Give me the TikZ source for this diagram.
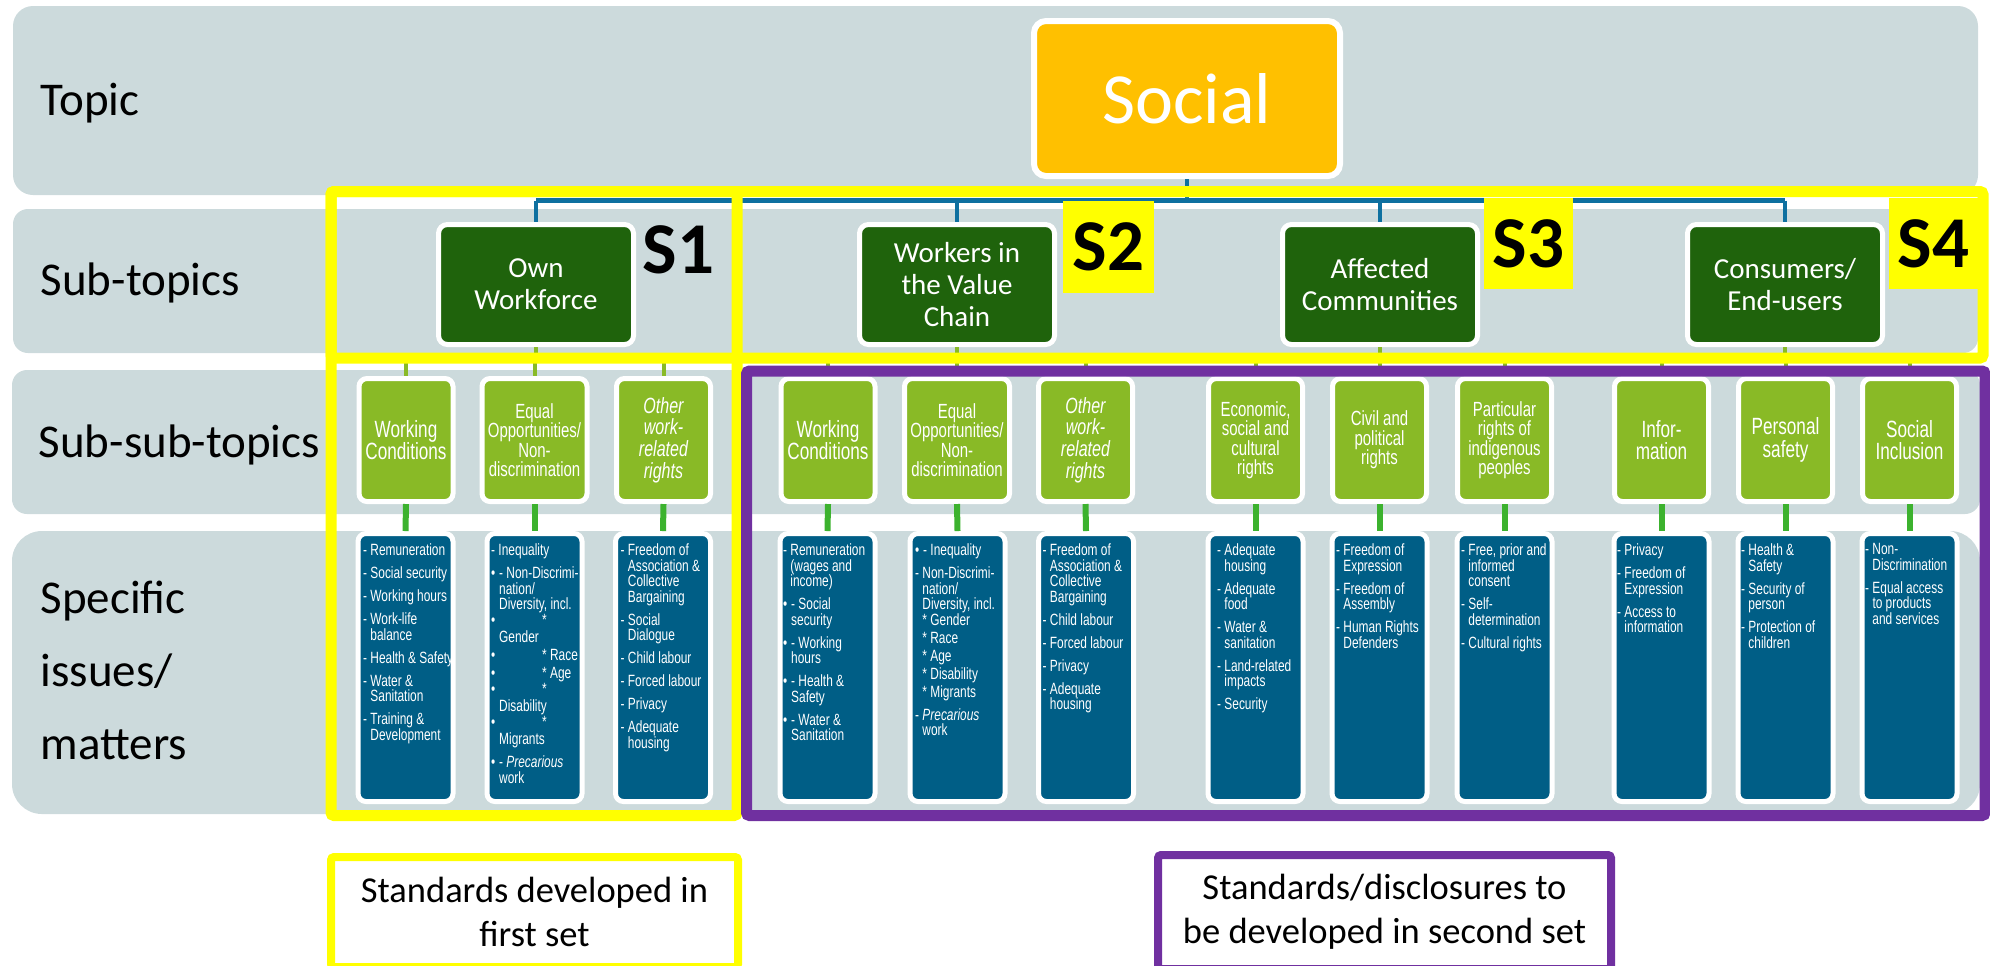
\documentclass[tikz,border=0pt]{standalone}
\usepackage{fontspec}
\setmainfont{Carlito}
\newfontfamily\narfont[FakeStretch=0.73]{Liberation Sans}
\definecolor{bandgray}{RGB}{204,218,220}
\definecolor{dkgreen}{RGB}{31,99,12}
\definecolor{ltgreen}{RGB}{137,186,38}
\definecolor{dblue}{RGB}{0,94,134}
\definecolor{orng}{RGB}{255,192,0}
\definecolor{lineblue}{RGB}{14,112,160}
\definecolor{brgreen}{RGB}{60,178,46}
\definecolor{ylw}{RGB}{255,255,0}
\definecolor{purp}{RGB}{112,48,160}
\newcommand\hind{\hphantom{-\ }}
\newcommand\mybul{\makebox[0.8mm][l]{•}}
\newcommand\mybsp{\hspace*{0.8mm}}
\newcommand\dtf{\narfont\fontsize{1.63mm}{1.55mm}\selectfont\lineskiplimit=-5pt\relax}
\newcommand\ssA{\narfont\fontsize{2.35mm}{2.22mm}\selectfont\lineskiplimit=-5pt\relax}
\newcommand\ssB{\narfont\fontsize{2.05mm}{1.94mm}\selectfont\lineskiplimit=-5pt\relax}
\newcommand\ssC{\narfont\itshape\fontsize{2.2mm}{2.17mm}\selectfont\lineskiplimit=-5pt\relax}
\tikzset{
  lbl/.style={inner sep=0pt, text=black, font=\fontsize{4.7mm}{5.6mm}\selectfont},
  socbox/.style={draw=white, line width=0.6mm, fill=orng, rounded corners=1.2mm, minimum width=30.6mm, minimum height=15.5mm, inner sep=0pt, text=white, font=\fontsize{7.2mm}{8mm}\selectfont},
  stbox/.style={draw=white, line width=0.5mm, fill=dkgreen, rounded corners=0.9mm, minimum width=19.5mm, minimum height=12mm, inner sep=0pt, align=center, text=white, font=\fontsize{2.9mm}{3.2mm}\selectfont},
  ssbox/.style={draw=white, line width=0.5mm, fill=ltgreen, rounded corners=0.8mm, minimum width=9.4mm, minimum height=12.3mm, inner sep=0pt, align=center, text=white},
  dbox/.style={draw=white, line width=0.5mm, fill=dblue, rounded corners=0.8mm, minimum width=9.5mm, minimum height=26.8mm, inner sep=0pt},
  dtext/.style={anchor=north west, inner sep=0pt, align=left, text=white, font=\dtf},
  slabel/.style={inner sep=0pt, text=black, font=\bfseries\fontsize{7.3mm}{8mm}\selectfont},
  spatch/.style={fill=ylw, minimum width=9mm, minimum height=9.1mm},
  bline/.style={draw=lineblue, line width=0.45mm},
  gline/.style={draw=ltgreen, line width=0.4mm},
  cline/.style={draw=brgreen, line width=0.6mm},
  yframe/.style={draw=ylw, line width=1.1mm, rounded corners=0.3mm},
  pframe/.style={draw=purp, line width=1.1mm, rounded corners=0.3mm},
  legbox/.style={line width=0.8mm, fill=white, rounded corners=0.3mm, align=center, text=black, inner sep=0pt, font=\fontsize{3.65mm}{4.4mm}\selectfont}
}
\begin{document}
\begin{tikzpicture}[x=0.1mm,y=-0.1mm]
\useasboundingbox (0,0) rectangle (1990,965);
\clip (0,0) rectangle (1990,965);
% bands
\fill[bandgray, rounded corners=2mm] (13,6) rectangle (1978,195);
\fill[bandgray, rounded corners=1.5mm] (13,209) rectangle (1978,353);
\fill[bandgray, rounded corners=1.5mm] (12,370) rectangle (1980,514);
\fill[bandgray, rounded corners=3mm] (12,531) rectangle (1980,814);
% row labels
\node[lbl, anchor=base west] (ltopic) at (40,115) {Topic};
\node[lbl, anchor=base west] (lsub) at (40,295) {Sub-topics};
\node[lbl, anchor=base west] (lsubsub) at (38,457) {Sub-sub-topics};
\node[lbl, anchor=west, align=left, font=\fontsize{4.7mm}{7.3mm}\selectfont] (lspec) at (40,670) {Specific\\issues/\\matters};
% topic
\node[socbox] (social) at (1187,98.5) {Social};
% sub-topics
\node[stbox] (t1) at (536,284.5) {Own\\Workforce};
\node[stbox] (t2) at (957,284.5) {Workers in\\the Value\\Chain};
\node[stbox] (t3) at (1380,284.5) {Affected\\Communities};
\node[stbox] (t4) at (1785,284.5) {Consumers/\\End-users};
% sub-sub-topics
\node[ssbox, font=\ssA] (c11) at (406,440) {Working\\Conditions};
\node[ssbox, font=\ssB, minimum width=10.5mm] (c12) at (534.5,440) {Equal\\Opportunities/\\Non-\\discrimination};
\node[ssbox, font=\ssC] (c13) at (663.5,440) {Other\\work-\\related\\rights};
\node[ssbox, font=\ssA] (c21) at (828,440) {Working\\Conditions};
\node[ssbox, font=\ssB, minimum width=10.5mm] (c22) at (957,440) {Equal\\Opportunities/\\Non-\\discrimination};
\node[ssbox, font=\ssC] (c23) at (1085.5,440) {Other\\work-\\related\\rights};
\node[ssbox, font=\ssB] (c31) at (1255.5,440) {Economic,\\social and\\cultural\\rights};
\node[ssbox, font=\ssB] (c32) at (1379.5,440) {Civil and\\political\\rights};
\node[ssbox, font=\ssB] (c33) at (1504.5,440) {Particular\\rights of\\indigenous\\peoples};
\node[ssbox, font=\ssA] (c41) at (1661.5,440) {Infor-\\mation};
\node[ssbox, font=\ssA] (c42) at (1785.5,440) {Personal\\safety};
\node[ssbox, font=\ssA] (c43) at (1909.5,440) {Social\\Inclusion};
% detail boxes
\node[dbox] (d11) at (405.5,667.5) {};
\node[dbox] (d12) at (534.5,667.5) {};
\node[dbox] (d13) at (663,667.5) {};
\node[dbox] (d21) at (827.5,667.5) {};
\node[dbox] (d22) at (957.5,667.5) {};
\node[dbox] (d23) at (1086,667.5) {};
\node[dbox] (d31) at (1255.5,667.5) {};
\node[dbox] (d32) at (1379.5,667.5) {};
\node[dbox] (d33) at (1504.5,667.5) {};
\node[dbox] (d41) at (1661.5,667.5) {};
\node[dbox] (d42) at (1785.5,667.5) {};
\node[dbox] (d43) at (1909.5,667.5) {};
% connectors: topic -> sub-topics
\coordinate (bus) at (0,200.5);
\draw[bline] (social.south) -- (social.south |- bus);
\draw[bline] (t1.north |- bus) -- (t4.north |- bus);
\foreach \nn in {t1,t2,t3,t4} \draw[bline] (\nn.north |- bus) -- (\nn.north);
% connectors: sub-topics -> sub-sub-topics
\coordinate (gbus) at (0,358);
\foreach \g in {1,2,3,4}{
  \draw[gline] (t\g.south) -- (t\g.south |- gbus);
  \draw[gline] (c\g1.north |- gbus) -- (c\g3.north |- gbus);
  \foreach \k in {1,2,3}{
    \draw[gline] (c\g\k.north |- gbus) -- (c\g\k.north);
    \draw[cline] (c\g\k.south) -- (d\g\k.north);
  }
}
% frames
\draw[yframe] (331,191.5) rectangle (1983,358);
\draw[yframe] (331,191.5) rectangle (737,815.5);
\draw[pframe] (746.5,371) rectangle (1985,815.5);
% S labels
\node[slabel, anchor=base west] (s1) at (642,273) {S1};
\node[slabel, spatch, minimum width=9.1mm, minimum height=9.2mm] (s2) at (1108.5,247) {S2};
\node[slabel, spatch, minimum width=8.9mm] (s3) at (1528.5,243.5) {S3};
\node[slabel, spatch, minimum width=8.9mm] (s4) at (1933.5,243.5) {S4};
% detail texts
\node[dtext] (x11) at ([shift={(7,12)}]d11.north west) {- Remuneration\\[0.75mm]- Social security\\[0.75mm]- Working hours\\[0.75mm]- Work-life\\\hind balance\\[0.75mm]- Health \& Safety\\[0.75mm]- Water \&\\\hind Sanitation\\[0.75mm]- Training \&\\\hind Development};
\node[dtext] (x12) at ([shift={(6,12)}]d12.north west) {- Inequality\\[0.75mm]\mybul- Non-Discrimi-\\\mybsp nation/\\\mybsp Diversity, incl.\\[0.05mm]\mybul\hspace*{4.3mm}*\\[0.15mm]\mybsp Gender\\[0.25mm]\mybul\hspace*{4.3mm}* Race\\[0.25mm]\mybul\hspace*{4.3mm}* Age\\[0.05mm]\mybul\hspace*{4.3mm}*\\[0.15mm]\mybsp Disability\\[0.05mm]\mybul\hspace*{4.3mm}*\\[0.15mm]\mybsp Migrants\\[0.75mm]\mybul- \textit{Precarious}\\\mybsp work};
\node[dtext] (x13) at ([shift={(7,12)}]d13.north west) {- Freedom of\\\hind Association \&\\\hind Collective\\\hind Bargaining\\[0.75mm]- Social\\\hind Dialogue\\[0.75mm]- Child labour\\[0.75mm]- Forced labour\\[0.75mm]- Privacy\\[0.75mm]- Adequate\\\hind housing};
\node[dtext] (x21) at ([shift={(5,12)}]d21.north west) {- Remuneration\\\hind (wages and\\\hind income)\\[0.75mm]\mybul- Social\\\mybsp security\\[0.75mm]\mybul- Working\\\mybsp hours\\[0.75mm]\mybul- Health \&\\\mybsp Safety\\[0.75mm]\mybul- Water \&\\\mybsp Sanitation};
\node[dtext] (x22) at ([shift={(7,12)}]d22.north west) {\mybul- Inequality\\[0.75mm]- Non-Discrimi-\\\hind nation/\\\hind Diversity, incl.\\\hind * Gender\\[0.25mm]\hind * Race\\[0.25mm]\hind * Age\\[0.25mm]\hind * Disability\\[0.25mm]\hind * Migrants\\[0.75mm]- \textit{Precarious}\\\hind work};
\node[dtext] (x23) at ([shift={(6,12)}]d23.north west) {- Freedom of\\\hind Association \&\\\hind Collective\\\hind Bargaining\\[0.75mm]- Child labour\\[0.75mm]- Forced labour\\[0.75mm]- Privacy\\[0.75mm]- Adequate\\\hind housing};
\node[dtext] (x31) at ([shift={(11,12)}]d31.north west) {- Adequate\\\hind housing\\[0.75mm]- Adequate\\\hind food\\[0.75mm]- Water \&\\\hind sanitation\\[0.75mm]- Land-related\\\hind impacts\\[0.75mm]- Security};
\node[dtext] (x32) at ([shift={(6,12)}]d32.north west) {- Freedom of\\\hind Expression\\[0.75mm]- Freedom of\\\hind Assembly\\[0.75mm]- Human Rights\\\hind Defenders};
\node[dtext] (x33) at ([shift={(6,12)}]d33.north west) {- Free, prior and\\\hind informed\\\hind consent\\[0.75mm]- Self-\\\hind determination\\[0.75mm]- Cultural rights};
\node[dtext] (x41) at ([shift={(5,12)}]d41.north west) {- Privacy\\[0.75mm]- Freedom of\\\hind Expression\\[0.75mm]- Access to\\\hind information};
\node[dtext] (x42) at ([shift={(5,12)}]d42.north west) {- Health \&\\\hind Safety\\[0.75mm]- Security of\\\hind person\\[0.75mm]- Protection of\\\hind children};
\node[dtext] (x43) at ([shift={(5,12)}]d43.north west) {- Non-\\\hind Discrimination\\[0.75mm]- Equal access\\\hind to products\\\hind and services};
% legends
\node[legbox, draw=ylw, minimum width=40.7mm, minimum height=11mm] (leg1) at (534.5,912) {Standards developed in\\first set};
\node[legbox, draw=purp, minimum width=45.3mm, minimum height=11.4mm] (leg2) at (1384.5,912) {Standards/disclosures to\\be developed in second set};
\end{tikzpicture}
\end{document}
